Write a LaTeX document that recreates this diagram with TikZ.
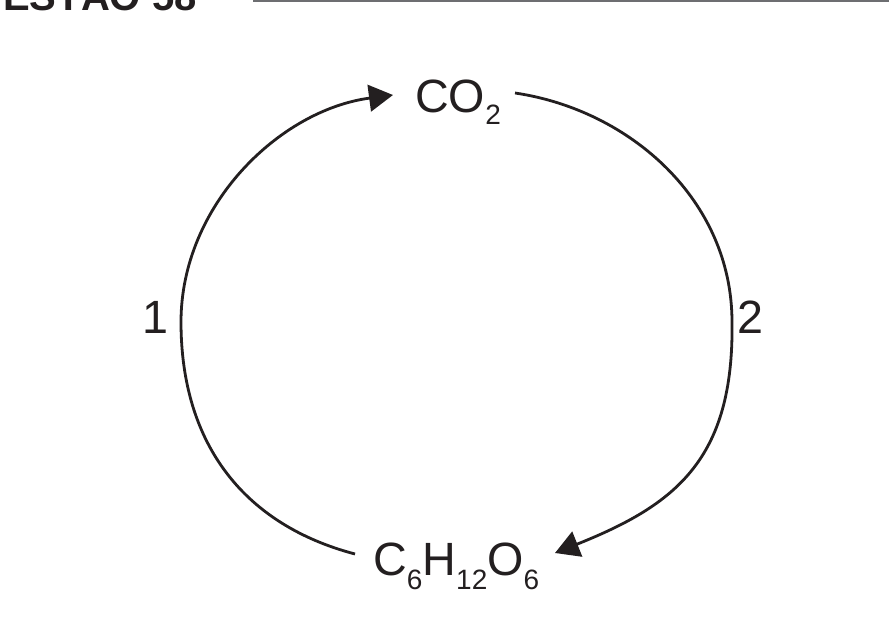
\documentclass[tikz,border=0pt]{standalone}
\usepackage{fontspec}
\setmainfont{Liberation Sans}
\usetikzlibrary{arrows.meta}
\definecolor{ink}{HTML}{231F20}
\definecolor{rulegray}{HTML}{6D6E71}
\newcommand\lowsub[2]{\raisebox{-#1}{\fontsize{21}{21}\selectfont #2}}
\begin{document}
\begin{tikzpicture}[x=0.75pt,y=-0.75pt,
  cyc/.style={line width=2.1pt, draw=ink, -{Triangle[length=18pt,width=20pt]}},
  chem/.style={inner sep=0pt, font=\fontsize{35}{35}\selectfont, text=ink},
  lbl/.style={inner sep=0pt, font=\fontsize{35}{35}\selectfont, text=ink},
  headtxt/.style={inner sep=0pt, font=\bfseries\fontsize{30}{30}\selectfont, text=ink}]
\useasboundingbox (0,0) rectangle (889,642);
\clip (0,0) rectangle (889,642);
\fill[white] (0,0) rectangle (889,642);
% header
\node[headtxt, anchor=base west] (head) at (3,11) {ESTÃO 58};
\coordinate (hl) at (253,1);
\coordinate (hr) at (889,1);
\draw[rulegray, line width=1.5pt] (hl) -- (hr);
% texts
\node[chem, anchor=base west] (co2) at (415,113) {CO\lowsub{9pt}{2}};
\node[chem, anchor=base west] (glu) at (373,575) {C\lowsub{10.5pt}{6}H\lowsub{10.5pt}{12}O\lowsub{10.5pt}{6}};
\node[lbl, anchor=base west] (one) at (142,333) {1};
\node[lbl, anchor=base west] (two) at (737,333) {2};
% cycle arcs
\coordinate (s1) at (355,554);
\coordinate (e1) at (393,95);
\coordinate (s2) at (515,93);
\coordinate (e2) at (555,553);
\draw[cyc] (s1) .. controls (245,525) and (181,445) .. (181,322)
               .. controls (181,205) and (280,110) .. (e1);
\draw[cyc] (s2) .. controls (630,110) and (732,200) .. (732,322)
               .. controls (734,460) and (675,505) .. (e2);
\end{tikzpicture}
\end{document}
